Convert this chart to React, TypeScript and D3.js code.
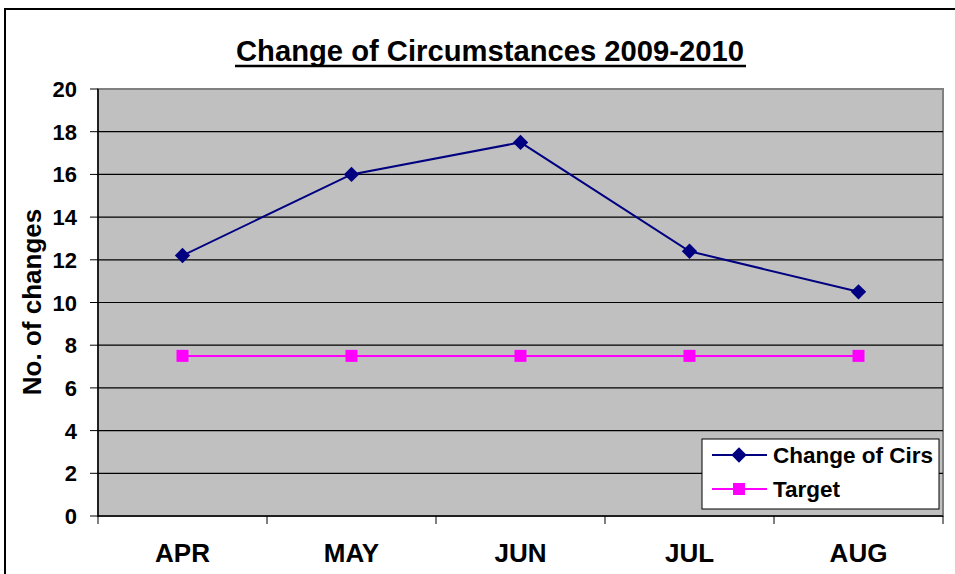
import * as d3 from 'd3'

const months = ['APR', 'MAY', 'JUN', 'JUL', 'AUG']
const changes = [12.2, 16.0, 17.5, 12.4, 10.5]
const target = [7.5, 7.5, 7.5, 7.5, 7.5]
const yTicks = [0, 2, 4, 6, 8, 10, 12, 14, 16, 18, 20]

const W = 955
const H = 574
const plot = { left: 98, right: 943, top: 89, bottom: 516 }

export default function App() {
    const x = d3.scaleBand().domain(months).range([plot.left, plot.right])
    const y = d3.scaleLinear().domain([0, 20]).range([plot.bottom, plot.top])
    const cx = (m: string) => (x(m) ?? 0) + x.bandwidth() / 2

    const line = d3
        .line<number>()
        .x((_, i) => cx(months[i]))
        .y((d) => y(d))

    const diamond = d3.symbol().type(d3.symbolDiamond2).size(150)
    const font = "'Liberation Sans', Arial, sans-serif"

    return (
        <svg
            width={W}
            height={H}
            style={{ position: 'absolute', left: 0, top: 0, background: '#fff' }}
            fontFamily={font}
            fontWeight="bold"
        >
            <rect x={5} y={9} width={W + 10} height={H + 10} fill="#fff" stroke="#000" strokeWidth={2} />

            <text x={490} y={61} textAnchor="middle" fontSize={29} textLength={508} lengthAdjust="spacingAndGlyphs">
                Change of Circumstances 2009-2010
            </text>
            <line x1={235} x2={746} y1={66} y2={66} stroke="#000" strokeWidth={2.5} />

            {/* plot area */}
            <rect
                x={plot.left}
                y={plot.top}
                width={plot.right - plot.left}
                height={plot.bottom - plot.top}
                fill="#c0c0c0"
                stroke="#808080"
                strokeWidth={2}
            />
            {yTicks
                .filter((t) => t > 0 && t < 20)
                .map((t) => (
                    <line key={t} x1={plot.left} x2={plot.right} y1={y(t)} y2={y(t)} stroke="#000" strokeWidth={1.2} />
                ))}

            {/* y axis */}
            <line x1={plot.left} x2={plot.left} y1={plot.top} y2={plot.bottom + 1} stroke="#000" strokeWidth={1.5} />
            {yTicks.map((t) => (
                <g key={t}>
                    <line x1={plot.left - 8} x2={plot.left} y1={y(t)} y2={y(t)} stroke="#000" strokeWidth={1} />
                    <text x={77} y={y(t) + 8} textAnchor="end" fontSize={22}>
                        {t}
                    </text>
                </g>
            ))}
            <text transform={`translate(41, 302) rotate(-90)`} textAnchor="middle" fontSize={26}>
                No. of changes
            </text>

            {/* x axis */}
            <line x1={plot.left} x2={plot.right} y1={plot.bottom} y2={plot.bottom} stroke="#000" strokeWidth={1.5} />
            {months.map((m) => (
                <g key={m}>
                    <line x1={x(m)} x2={x(m)} y1={plot.bottom} y2={plot.bottom + 8} stroke="#000" />
                    <text x={cx(m)} y={562} textAnchor="middle" fontSize={26}>
                        {m}
                    </text>
                </g>
            ))}
            <line x1={plot.right} x2={plot.right} y1={plot.bottom} y2={plot.bottom + 8} stroke="#000" />

            {/* series */}
            <path d={line(target) ?? ''} fill="none" stroke="#ff00ff" strokeWidth={2} />
            {target.map((v, i) => (
                <rect key={i} x={cx(months[i]) - 6} y={y(v) - 6} width={12} height={12} fill="#ff00ff" />
            ))}
            <path d={line(changes) ?? ''} fill="none" stroke="#000080" strokeWidth={2} />
            {changes.map((v, i) => (
                <path key={i} d={diamond() ?? ''} transform={`translate(${cx(months[i])},${y(v)})`} fill="#000080" />
            ))}

            {/* legend */}
            <rect x={702} y={439} width={237} height={70} fill="#fff" stroke="#000" strokeWidth={1} />
            <line x1={712} x2={767} y1={455} y2={455} stroke="#000080" strokeWidth={2} />
            <path d={diamond() ?? ''} transform="translate(739,455)" fill="#000080" />
            <text x={773} y={463} fontSize={22.5}>
                Change of Cirs
            </text>
            <line x1={712} x2={767} y1={489} y2={489} stroke="#ff00ff" strokeWidth={2} />
            <rect x={733} y={483} width={12} height={12} fill="#ff00ff" />
            <text x={773} y={497} fontSize={22.5}>
                Target
            </text>
        </svg>
    )
}
